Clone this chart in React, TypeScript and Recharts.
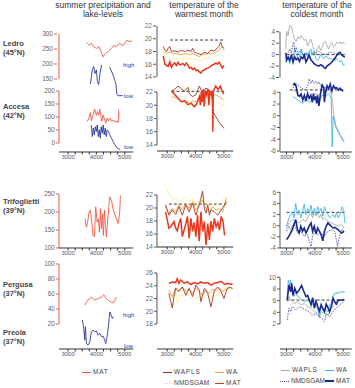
import { LineChart, Line, XAxis, YAxis, ReferenceArea, ReferenceLine } from 'recharts'

type Row = [number, number | null]

// ---- summer precipitation (mm) and lake levels (0 = low, 1 = high) ----
const ledroPrecip: Row[] = [[3650,272],[3740,263],[3820,269],[3900,258],[4000,252],[4090,258],[4180,239],[4235,224],[4290,232],[4410,241],[4530,252],[4610,261],[4700,258],[4820,269],[4940,261],[5080,280],[5180,274],[5260,277]]
const ledroLake: Row[] = [[3790,0.38],[3860,0.88],[3905,0.95],[3950,0.72],[4000,0.84],[4030,0.5],[4080,0.36],[4130,0.75],[4185,1.0],[4300,null],[4470,0.93],[4530,0.8],[4590,0.67],[4650,0.5],[4690,0.36],[4720,0.06],[4760,0],[4940,0]]
const accesaPrecip: Row[] = [[3682,83],[3741,98],[3788,117],[3823,85],[3882,108],[3941,130],[4000,106],[4035,121],[4082,108],[4117,130],[4152,108],[4188,83],[4235,108],[4282,93],[4329,76],[4376,96],[4423,85],[4470,96],[4529,83],[4588,89],[4658,80],[4729,83],[4776,80],[4788,128]]
const accesaLake: Row[] = [[3820,0.82],[3855,0.41],[3890,0.71],[3925,0.47],[3960,0.76],[3995,0.59],[4030,0.82],[4065,0.41],[4100,0.65],[4135,0.35],[4170,0.76],[4205,0.53],[4240,0.82],[4275,0.47],[4310,0.71],[4345,0.41],[4380,0.65],[4420,0.59],[4470,0.47],[4530,0.35],[4590,0.23],[4650,0.12],[4730,0],[4830,-0.05]]
const trifoPrecip: Row[] = [[3600,181],[3647,158],[3682,168],[3741,200],[3788,205],[3835,172],[3882,135],[3929,131],[3976,214],[4023,172],[4070,181],[4105,144],[4141,209],[4176,153],[4211,195],[4247,135],[4282,205],[4317,163],[4353,131],[4412,191],[4470,242],[4529,232],[4588,209],[4682,186],[4764,168],[4823,200],[4847,246]]
const pergusaPrecip: Row[] = [[3590,45],[3700,52],[3820,56],[3940,52],[4060,54],[4180,56],[4260,59],[4350,54],[4470,50],[4590,48],[4650,52],[4710,56]]
const preolaLake: Row[] = [[3506,0.84],[3553,0.57],[3588,0.19],[3612,0.62],[3647,0.08],[3706,0.03],[3765,0.13],[3823,0.46],[3882,0.51],[3941,0.46],[4000,0.49],[4059,0.35],[4117,0.41],[4176,0.3],[4235,0.32],[4294,0.19],[4329,0.08],[4376,0.3],[4423,0.62],[4470,1.1],[4517,1.0],[4564,0.89],[4600,0.95]]

// ---- temperature of the warmest month (°C) ----
const ledroWarmMAT: Row[] = [[2860,17.3],[2920,16.0],[2980,15.8],[3035,15.7],[3090,16.4],[3150,15.5],[3210,16.0],[3265,16.2],[3325,15.8],[3380,16.3],[3440,15.9],[3500,16.0],[3555,16.1],[3615,15.8],[3670,16.2],[3730,15.9],[3785,15.4],[3845,15.5],[3900,15.2],[3960,15.4],[4015,15.0],[4075,15.1],[4135,14.8],[4190,14.6],[4250,15.0],[4305,15.1],[4365,15.3],[4420,15.4],[4480,15.5],[4540,15.7],[4595,15.9],[4655,16.0],[4710,16.2],[4770,16.0],[4825,16.3],[4885,15.9],[4940,15.4],[5000,15.8]]
const ledroWarmWAPLS: Row[] = [[2860,18.8],[2920,18.2],[2980,18.0],[3035,18.5],[3090,18.8],[3150,18.0],[3265,18.1],[3380,17.9],[3500,18.2],[3615,18.0],[3730,18.2],[3845,18.0],[3900,18.5],[3960,17.9],[4075,17.7],[4190,17.5],[4305,17.9],[4420,17.7],[4540,18.2],[4655,18.1],[4770,18.5],[4825,18.8],[4885,19.5],[4940,18.8],[5000,18.5]]
const ledroWarmWA: Row[] = [[2860,18.0],[2980,17.7],[3090,17.9],[3210,17.6],[3325,17.7],[3440,17.5],[3555,17.6],[3670,17.7],[3785,17.5],[3900,17.7],[4015,17.4],[4135,17.2],[4250,17.5],[4365,17.6],[4480,17.7],[4595,17.6],[4710,17.9],[4825,18.2],[4940,18.8],[5000,18.2]]
const ledroWarmNMDS: Row[] = [[2860,17.2],[2980,16.9],[3090,17.0],[3210,16.8],[3325,16.9],[3440,16.7],[3555,16.9],[3670,17.0],[3785,16.8],[3900,16.9],[4015,16.7],[4135,16.5],[4250,16.8],[4365,16.9],[4480,17.0],[4595,16.9],[4710,17.2],[4825,17.5],[4940,17.4],[5000,17.2]]

const accesaWarmMAT: Row[] = [[3150,22.2],[3265,21.6],[3380,21.1],[3500,20.5],[3615,20.7],[3730,20.1],[3845,20.3],[3960,19.8],[4040,20.2],[4085,20.8],[4135,21.3],[4170,20.0],[4200,22.0],[4235,20.5],[4270,22.4],[4305,19.8],[4340,22.2],[4385,21.6],[4435,22.5],[4470,20.0],[4505,22.0],[4550,21.6],[4595,22.2],[4610,16.0],[4625,22.1],[4710,22.9],[4790,22.4],[4875,22.9],[4940,22.1],[5000,21.7]]
const accesaWarmWAPLS: Row[] = [[3150,22.2],[3265,22.4],[3380,22.9],[3500,22.5],[3615,22.1],[3730,22.7],[3785,21.7],[3900,21.3],[4015,21.6],[4135,22.9],[4250,21.8],[4365,22.6],[4480,22.2],[4570,22.0],[4615,19.0],[4710,18.3],[4825,17.5],[5000,16.5]]
const accesaWarmWA: Row[] = [[3150,21.3],[3325,21.1],[3440,20.8],[3555,20.5],[3670,20.6],[3785,20.3],[3900,20.7],[4015,20.5],[4135,21.1],[4250,20.8],[4365,21.3],[4480,21.1],[4595,21.2],[4710,21.6],[4825,21.3],[5000,20.8]]
const accesaWarmNMDS: Row[] = [[3150,20.8],[3265,20.5],[3380,20.1],[3500,19.8],[3615,20.2],[3730,19.7],[3845,20.0],[3960,19.6],[4075,20.3],[4190,20.1],[4305,20.6],[4420,20.2],[4540,20.5],[4655,20.7],[4770,20.5],[4885,20.2],[5000,20.0]]

const trifoWarmMAT: Row[] = [[2940,19.4],[3000,18.2],[3060,16.9],[3120,17.1],[3180,17.5],[3240,17.9],[3300,16.9],[3355,16.5],[3415,17.6],[3475,18.4],[3535,15.6],[3595,16.6],[3655,17.5],[3715,18.7],[3775,15.3],[3835,18.4],[3895,16.4],[3950,17.8],[4010,15.6],[4070,18.9],[4130,14.9],[4190,19.4],[4250,16.4],[4310,17.9],[4370,14.3],[4430,17.6],[4490,15.1],[4545,18.0],[4605,16.4],[4665,18.4],[4725,17.1],[4785,17.8],[4845,16.6],[4905,18.7],[4965,18.0],[5025,15.8]]
const trifoWarmWAPLS: Row[] = [[2940,20.5],[3060,18.9],[3180,19.7],[3300,19.0],[3415,20.2],[3535,18.9],[3655,20.5],[3775,19.4],[3895,20.7],[4010,18.9],[4130,20.5],[4190,21.5],[4250,22.6],[4310,19.9],[4370,19.2],[4430,20.5],[4490,18.9],[4545,19.7],[4665,19.4],[4785,18.9],[4905,19.7],[5025,20.5],[5085,21.0]]
const trifoWarmWA: Row[] = [[2940,20.2],[3060,19.2],[3180,19.9],[3300,19.4],[3415,20.5],[3535,19.7],[3655,20.7],[3775,19.9],[3895,21.0],[4010,19.7],[4130,20.6],[4250,21.2],[4370,19.9],[4490,19.4],[4605,20.2],[4725,19.7],[4845,19.9],[4965,19.4],[5085,21.5]]
const trifoWarmNMDS: Row[] = [[2940,23.4],[3000,22.8],[3060,22.3],[3120,21.7],[3180,21.2],[3300,21.5],[3415,21.0],[3535,21.2],[3655,21.7],[3775,21.0],[3895,21.5],[4010,20.6],[4130,21.2],[4250,21.7],[4370,20.5],[4490,21.0],[4605,19.9],[4725,20.5],[4845,20.7],[4965,21.2],[5085,21.7]]

const pergusaWarmMAT: Row[] = [[3060,24.4],[3180,24.6],[3300,24.5],[3355,25.1],[3415,24.4],[3475,24.9],[3595,24.4],[3715,24.6],[3835,24.2],[3950,24.5],[4070,24.3],[4190,24.6],[4310,24.4],[4430,24.5],[4545,24.1],[4665,24.4],[4785,24.5],[4905,24.7],[5025,24.2],[5140,24.4],[5260,24.2],[5300,24.4]]
const pergusaWarmWAPLS: Row[] = [[3060,22.8],[3180,20.5],[3240,22.3],[3300,23.6],[3415,23.1],[3535,23.8],[3655,22.5],[3775,23.6],[3895,22.3],[4010,24.1],[4130,23.3],[4190,21.5],[4310,23.6],[4430,22.8],[4545,20.7],[4665,23.3],[4785,23.8],[4905,23.1],[5000,22.0],[5120,23.6],[5235,23.8],[5300,23.5]]
const pergusaWarmWA: Row[] = [[3060,23.3],[3180,22.3],[3300,23.6],[3415,23.2],[3535,23.8],[3655,23.1],[3775,23.5],[3895,22.8],[4010,23.6],[4130,23.1],[4250,22.5],[4370,23.3],[4490,22.8],[4605,23.5],[4725,23.2],[4845,23.6],[4965,23.1],[5085,23.5],[5200,23.7],[5300,23.6]]
const pergusaWarmNMDS: Row[] = [[3060,23.1],[3180,22.0],[3300,23.1],[3355,21.3],[3475,22.5],[3595,22.3],[3715,22.8],[3835,22.0],[3950,22.5],[4070,22.0],[4190,22.3],[4310,21.8],[4430,22.5],[4545,22.0],[4665,22.8],[4785,22.5],[4905,23.1],[5025,23.3],[5140,23.5],[5260,23.6],[5300,23.3]]

// ---- temperature of the coldest month (°C) ----
const ledroColdWAPLS: Row[] = [[2977,1.0],[3000,4.1],[3057,3.3],[3114,5.1],[3171,4.9],[3229,3.7],[3286,2.7],[3343,2.3],[3400,3.1],[3457,2.7],[3514,3.3],[3572,2.9],[3629,2.5],[3686,2.7],[3743,1.5],[3800,2.1],[3857,2.7],[3914,1.8],[3972,0.7],[4029,0.0],[4086,1.2],[4143,1.6],[4200,0.7],[4257,1.3],[4314,2.1],[4372,2.3],[4429,1.5],[4486,1.0],[4543,1.8],[4600,2.1],[4657,1.3],[4714,1.6],[4772,2.2],[4829,1.9],[4886,2.2],[4943,1.8],[5000,2.2],[5057,1.9]]
const ledroColdMAT: Row[] = [[2977,0.3],[3000,-1.0],[3057,-0.4],[3114,-1.0],[3171,0.0],[3229,-1.3],[3286,-0.4],[3343,-0.9],[3400,-0.6],[3457,-1.2],[3514,-0.4],[3572,-0.7],[3629,-0.1],[3686,-1.3],[3743,-0.7],[3800,-0.1],[3857,-0.9],[3914,-1.2],[3972,-1.6],[4029,-1.8],[4086,-1.9],[4143,-2.0],[4200,-1.8],[4257,-1.9],[4314,-2.2],[4372,-2.4],[4429,-2.0],[4486,-1.8],[4543,-1.6],[4600,-1.3],[4657,-1.0],[4714,-0.6],[4772,-0.1],[4829,0.2],[4886,0.4],[4943,0.0],[5000,-0.3],[5057,-0.4]]
const ledroColdWA: Row[] = [[2977,-1.3],[3057,-0.7],[3114,-1.6],[3171,-0.4],[3229,-1.3],[3286,1.0],[3343,0.2],[3400,-0.7],[3457,-0.4],[3514,1.0],[3572,-0.1],[3629,-0.6],[3686,0.4],[3743,-0.3],[3800,0.4],[3857,1.0],[3914,0.0],[3972,0.6],[4029,-0.6],[4086,-1.0],[4143,-0.7],[4200,0.0],[4257,-0.4],[4314,-0.7],[4372,-0.3],[4429,-0.4],[4486,-0.7],[4543,-0.6],[4600,-0.9],[4657,-0.6],[4714,-1.0],[4772,-0.7],[4829,-1.0],[4886,-1.3],[4943,-1.0],[5000,-1.9],[5057,-1.6]]
const ledroColdNMDS: Row[] = [[2977,-0.1],[3057,0.4],[3114,1.0],[3171,0.2],[3229,1.8],[3263,2.2],[3297,0.4],[3343,1.3],[3400,0.2],[3457,0.6],[3572,0.3],[3686,0.0],[3800,0.4],[3914,0.2],[4029,0.3],[4143,0.6],[4257,0.2],[4372,0.0],[4486,0.3],[4600,0.4],[4714,0.2],[4829,0.0],[4943,-0.1],[5057,0.0]]

const accesaColdMAT: Row[] = [[3229,5.25],[3286,5.5],[3343,4.97],[3400,3.5],[3457,3.3],[3514,3.7],[3572,2.7],[3629,3.5],[3686,2.5],[3743,3.8],[3800,3.0],[3857,3.5],[3914,2.3],[3949,3.8],[3983,2.7],[4029,3.3],[4063,2.1],[4097,3.5],[4143,1.7],[4177,3.0],[4212,4.1],[4257,5.25],[4314,4.8],[4337,2.3],[4372,3.8],[4429,5.1],[4486,4.6],[4543,5.4],[4600,4.2],[4657,5.1],[4714,4.7],[4772,4.8],[4829,4.4],[4886,4.7],[4943,4.4],[5000,4.2]]
const accesaColdWAPLS: Row[] = [[3229,4.4],[3343,4.0],[3457,3.5],[3572,3.1],[3686,3.3],[3800,2.9],[3914,3.3],[4029,3.7],[4143,3.5],[4257,4.4],[4372,4.1],[4486,4.4],[4577,3.8],[4623,2.3],[4669,0.1],[4737,-1.6],[4829,-2.6],[4920,-3.4],[5034,-4.3]]
const accesaColdWA: Row[] = [[3229,3.3],[3343,2.9],[3457,2.5],[3572,2.1],[3686,2.9],[3800,2.3],[3914,2.7],[4029,3.0],[4143,2.3],[4257,3.5],[4372,3.3],[4486,3.8],[4577,3.0],[4612,-5.3],[4646,-0.1],[4737,-1.9],[4829,-2.8],[4920,-3.7],[5034,-4.5]]
const accesaColdNMDS: Row[] = [[3229,4.7],[3320,5.5],[3400,5.25],[3514,4.8],[3629,4.4],[3743,4.97],[3800,6.3],[3857,5.5],[3914,6.1],[3972,5.5],[4029,5.9],[4086,5.4],[4143,5.8],[4200,5.1],[4314,4.7],[4429,4.97],[4543,4.4],[4657,4.8],[4772,4.6],[4886,4.4],[5000,4.2]]

const trifoColdMAT: Row[] = [[3000,-2.5],[3085,-1.9],[3145,-1.3],[3205,-0.7],[3265,0.2],[3325,1.1],[3385,-0.7],[3445,-1.3],[3505,-0.1],[3565,-1.0],[3625,-0.4],[3685,-1.3],[3745,-0.7],[3805,0.0],[3865,0.5],[3920,-1.0],[3980,-0.1],[4040,-1.5],[4100,-0.4],[4160,-1.0],[4220,-1.6],[4280,-2.7],[4340,-1.0],[4400,-0.1],[4460,0.5],[4520,0.2],[4580,-0.1],[4640,-0.4],[4700,-0.3],[4820,-0.7],[4940,-1.3],[5035,-1.0]]
const trifoColdWA: Row[] = [[3000,-0.1],[3085,1.4],[3145,2.0],[3205,2.5],[3265,1.4],[3325,4.0],[3385,2.0],[3445,2.8],[3505,1.4],[3565,2.5],[3625,3.9],[3685,2.0],[3745,3.1],[3805,2.3],[3865,3.7],[3920,2.0],[3980,3.1],[4040,2.0],[4100,3.4],[4160,2.5],[4220,3.1],[4280,1.7],[4340,3.4],[4400,2.5],[4460,2.0],[4520,1.4],[4580,1.7],[4640,2.0],[4700,1.4],[4760,2.3],[4820,1.4],[4880,2.0],[4965,3.4],[5015,2.8],[5060,0.5]]
const trifoColdWAPLS: Row[] = [[3000,-0.4],[3085,0.5],[3205,1.1],[3325,0.8],[3445,0.5],[3565,1.1],[3685,0.8],[3805,2.0],[3865,2.3],[3920,1.4],[3980,2.5],[4040,1.7],[4100,2.3],[4160,1.4],[4220,2.0],[4280,1.1],[4340,1.4],[4460,0.8],[4580,0.5],[4700,0.2],[4820,-0.1],[4940,0.2],[5035,-0.4]]
const trifoColdNMDS: Row[] = [[3000,-1.0],[3085,-0.1],[3145,-0.7],[3265,0.5],[3385,-1.3],[3505,-1.0],[3625,-1.9],[3745,-1.6],[3805,-2.8],[3865,-3.7],[3920,-1.9],[3980,-1.0],[4100,-1.6],[4220,-1.3],[4340,-1.9],[4460,-1.0],[4580,-0.7],[4700,-1.0],[4800,-3.7],[4880,-1.6],[4965,-0.7],[5035,-1.3]]

const pergusaColdMAT: Row[] = [[3025,6.1],[3085,8.7],[3145,7.5],[3180,9.0],[3230,6.9],[3290,8.1],[3360,7.3],[3445,7.8],[3530,8.6],[3600,7.7],[3685,6.7],[3745,6.9],[3805,6.1],[3865,5.3],[3920,6.5],[3980,4.7],[4040,5.9],[4100,5.0],[4160,4.2],[4220,5.3],[4280,4.6],[4340,4.1],[4400,5.4],[4460,4.8],[4520,4.1],[4580,5.0],[4640,6.4],[4700,5.8],[4760,5.4],[4820,6.1],[4920,6.1],[5035,6.1]]
const pergusaColdWA: Row[] = [[3025,6.4],[3060,9.5],[3110,8.7],[3145,9.5],[3205,8.1],[3265,6.7],[3325,7.5],[3385,6.7],[3505,6.4],[3625,5.8],[3745,6.1],[3865,5.5],[3980,5.3],[4100,4.7],[4160,3.3],[4220,5.0],[4340,4.7],[4460,4.1],[4520,5.3],[4580,5.5],[4640,6.7],[4700,7.3],[4820,7.3],[4940,7.5],[5060,7.5]]
const pergusaColdWAPLS: Row[] = [[3025,5.8],[3085,6.7],[3145,6.1],[3265,5.5],[3385,5.8],[3505,5.3],[3625,5.5],[3745,5.0],[3865,4.7],[3980,4.1],[4100,3.8],[4160,3.0],[4220,4.1],[4340,3.8],[4460,3.5],[4580,4.7],[4700,5.3],[4820,5.8],[4940,6.1],[5035,6.4]]
const pergusaColdNMDS: Row[] = [[3025,2.7],[3085,4.7],[3145,4.1],[3205,5.0],[3325,4.4],[3445,5.0],[3565,4.7],[3685,4.4],[3805,4.1],[3920,3.5],[4040,3.8],[4160,3.3],[4280,2.7],[4340,2.4],[4400,3.8],[4520,3.3],[4640,4.1],[4760,4.7],[4880,5.3],[5000,5.8]]

const AGE_TICKS = [3000, 3250, 3500, 3750, 4000, 4250, 4500, 4750, 5000]
const BAND: [number, number] = [3960, 4320]

const RED = '#ee5a45'
const BLUE = '#2a3a9c'
const W = { wapls: '#a3381f', wa: '#f5a03c', nmds: '#f2df4a', mat: '#e8371e' }
const C = { wapls: '#aaaaaa', wa: '#3cb6e6', nmds: '#4b4fa8', mat: '#1b2a8c' }

const FONT = '"Liberation Sans", Arial, sans-serif'
const PX_PER_YR = 0.02835
const ML = 30
const MR = 8
const XH = 14

interface Col { left: number; from: number; to: number; axisColor: string }
const COL1: Col = { left: 59, from: 2680, to: 5300, axisColor: RED }
const COL2: Col = { left: 156.5, from: 2640, to: 5330, axisColor: '#555' }
const COL3: Col = { left: 280, from: 2770, to: 5300, axisColor: '#555' }

// an axis is pinned by two (value, page y) anchors; its domain is stretched to the block
interface Axis { id: string; lo: [number, number]; hi: [number, number]; ticks?: number[] }
interface Series { rows: Row[]; axis: string; color: string; width?: number; dash?: string }
interface Dash { axis: string; y: number; from: number; to: number }

function domainOf(a: Axis, top: number, bottom: number): [number, number] {
  const [v1, y1] = a.lo
  const [v2, y2] = a.hi
  const k = (y2 - y1) / (v2 - v1)
  return [v1 + (bottom - y1) / k, v1 + (top - y1) / k]
}

const toPts = (rows: Row[]) => rows.map(([age, v]) => ({ age, v }))
const plotWidth = (c: Col) => (c.to - c.from) * PX_PER_YR

function Band({ col, top, bottom }: { col: Col; top: number; bottom: number }) {
  return (
    <div style={{ position: 'absolute', left: col.left, top }}>
      <LineChart width={plotWidth(col)} height={bottom - top} margin={{ top: 0, right: 0, bottom: 0, left: 0 }}
        data={[{ age: col.from, v: 0 }, { age: col.to, v: 1 }]}>
        <XAxis type="number" dataKey="age" domain={[col.from, col.to]} allowDataOverflow hide />
        <YAxis domain={[0, 1]} hide />
        <ReferenceArea x1={BAND[0]} x2={BAND[1]} y1={0} y2={1} fill="#dedede" fillOpacity={1} stroke="none" />
      </LineChart>
    </div>
  )
}

function Block({ col, top, bottom, axes, series, dashes = [] }: {
  col: Col; top: number; bottom: number; axes: Axis[]; series: Series[]; dashes?: Dash[]
}) {
  const w = plotWidth(col)
  // every shown y axis takes 1px of the left margin
  const shown = axes.filter(a => a.ticks).length
  return (
    <div style={{ position: 'absolute', left: col.left - ML, top }}>
      <LineChart width={ML + w + MR} height={bottom - top + XH} margin={{ top: 0, right: MR, bottom: 0, left: ML - shown }}>
        <XAxis xAxisId="age" type="number" dataKey="age" domain={[col.from, col.to]} allowDataOverflow
          ticks={AGE_TICKS} interval={0} height={XH} tickSize={2.5} tickMargin={0}
          tickFormatter={(v: number) => (v % 1000 === 0 ? String(v) : '')}
          axisLine={{ stroke: '#333' }} tickLine={{ stroke: '#333' }}
          tick={{ fontSize: 6, fill: '#555' }} />
        {axes.map(a => (
          <YAxis key={a.id} yAxisId={a.id} domain={domainOf(a, top, bottom)} allowDataOverflow
            hide={!a.ticks} ticks={a.ticks} interval={0} width={1} axisLine={false}
            tickSize={3} tickMargin={1} tickLine={{ stroke: col.axisColor }}
            tick={{ fontSize: 6.5, fill: '#666' }} />
        ))}
        {axes.filter(a => a.ticks).map(a => (
          <ReferenceLine key={'axis-' + a.id} xAxisId="age" yAxisId={a.id} ifOverflow="visible"
            segment={[{ x: col.from, y: a.ticks![0] }, { x: col.from, y: a.ticks![a.ticks!.length - 1] }]}
            stroke={col.axisColor} strokeWidth={1} />
        ))}
        {dashes.map((d, i) => (
          <ReferenceLine key={'dash-' + i} xAxisId="age" yAxisId={d.axis}
            segment={[{ x: d.from, y: d.y }, { x: d.to, y: d.y }]}
            stroke="#222" strokeWidth={0.9} strokeDasharray="3 2" />
        ))}
        {series.map((s, i) => (
          <Line key={i} xAxisId="age" yAxisId={s.axis} data={toPts(s.rows)} dataKey="v" type="linear"
            stroke={s.color} strokeWidth={s.width ?? 0.9} strokeDasharray={s.dash}
            dot={false} activeDot={false} connectNulls={false} isAnimationActive={false} />
        ))}
      </LineChart>
    </div>
  )
}

const warmSet = (axis: string, wapls: Row[], wa: Row[], nmds: Row[], mat: Row[]): Series[] => [
  { rows: nmds, axis, color: W.nmds, dash: '1 1.2', width: 1 },
  { rows: wa, axis, color: W.wa },
  { rows: wapls, axis, color: W.wapls },
  { rows: mat, axis, color: W.mat, width: 1.5 },
]
const coldSet = (axis: string, wapls: Row[], wa: Row[], nmds: Row[], mat: Row[]): Series[] => [
  { rows: wapls, axis, color: C.wapls },
  { rows: wa, axis, color: C.wa },
  { rows: nmds, axis, color: C.nmds, dash: '1.5 1.2' },
  { rows: mat, axis, color: C.mat, width: 1.6 },
]

const abs = (left: number, top: number, extra: React.CSSProperties = {}): React.CSSProperties => ({
  position: 'absolute', left, top, whiteSpace: 'nowrap', lineHeight: 1, ...extra,
})

function Title({ x, lines }: { x: number; lines: string[] }) {
  return (
    <div style={abs(x - 60, 1, { width: 120, textAlign: 'center', fontSize: 8.5, color: '#333', lineHeight: '9px' })}>
      {lines.map(l => <div key={l}>{l}</div>)}
    </div>
  )
}

function Site({ y, name, lat }: { y: number; name: string; lat: string }) {
  return (
    <div style={abs(3, y, { fontSize: 7.5, fontWeight: 700, color: '#444', lineHeight: '9px' })}>
      <div>{name}</div>
      <div>{lat}</div>
    </div>
  )
}

function Key({ x, y, color, label, dotted, thick, spacing = 0.8 }: {
  x: number; y: number; color: string; label: string; dotted?: boolean; thick?: boolean; spacing?: number
}) {
  return (
    <div style={abs(x, y - 4, { display: 'flex', alignItems: 'center', fontSize: 6.5, color: '#444', letterSpacing: spacing })}>
      <span style={{ display: 'inline-block', width: 9, borderTop: `${thick ? 2 : 1.5}px ${dotted ? 'dotted' : 'solid'} ${color}`, marginRight: 2 }} />
      {label}
    </div>
  )
}

const lakeText = (x: number, y: number, t: string) => (
  <div key={t + y} style={abs(x, y - 3, { fontSize: 6, color: BLUE })}>{t}</div>
)

export default function App() {
  return (
    <div style={{ position: 'absolute', left: 0, top: 0, width: 355, height: 388, background: '#fff', fontFamily: FONT, overflow: 'hidden' }}>
      <Band col={COL1} top={30} bottom={349} />
      <Band col={COL2} top={30} bottom={342} />
      <Band col={COL3} top={28} bottom={342} />

      {/* summer precipitation and lake levels */}
      <Block col={COL1} top={28} bottom={152}
        axes={[
          { id: 'ledro', lo: [150, 79], hi: [300, 34], ticks: [150, 200, 250, 300] },
          { id: 'ledroLake', lo: [0, 95.7], hi: [1, 65] },
          { id: 'accesa', lo: [0, 143], hi: [200, 91], ticks: [0, 50, 100, 150, 200] },
          { id: 'accesaLake', lo: [0, 148], hi: [1, 120] },
        ]}
        series={[
          { rows: ledroPrecip, axis: 'ledro', color: RED },
          { rows: ledroLake, axis: 'ledroLake', color: BLUE },
          { rows: accesaPrecip, axis: 'accesa', color: RED },
          { rows: accesaLake, axis: 'accesaLake', color: BLUE },
        ]} />
      <Block col={COL1} top={152} bottom={248}
        axes={[{ id: 'trifo', lo: [100, 248], hi: [250, 194], ticks: [100, 150, 200, 250] }]}
        series={[{ rows: trifoPrecip, axis: 'trifo', color: RED }]} />
      <Block col={COL1} top={248} bottom={349}
        axes={[
          { id: 'pergusa', lo: [20, 324], hi: [100, 264], ticks: [20, 40, 60, 80, 100] },
          { id: 'preolaLake', lo: [0, 346], hi: [1, 315] },
        ]}
        series={[
          { rows: pergusaPrecip, axis: 'pergusa', color: RED },
          { rows: preolaLake, axis: 'preolaLake', color: BLUE },
        ]} />

      {/* warmest month */}
      <Block col={COL2} top={22} bottom={151}
        axes={[
          { id: 'ledro', lo: [14, 77], hi: [22, 26], ticks: [14, 16, 18, 20, 22] },
          { id: 'accesa', lo: [14, 145], hi: [22, 92], ticks: [14, 16, 18, 20, 22] },
        ]}
        series={[
          ...warmSet('ledro', ledroWarmWAPLS, ledroWarmWA, ledroWarmNMDS, ledroWarmMAT),
          ...warmSet('accesa', accesaWarmWAPLS, accesaWarmWA, accesaWarmNMDS, accesaWarmMAT),
        ]}
        dashes={[
          { axis: 'ledro', y: 19.8, from: 3100, to: 5000 },
          { axis: 'accesa', y: 22.1, from: 3150, to: 5000 },
        ]} />
      <Block col={COL2} top={151} bottom={247}
        axes={[{ id: 'trifo', lo: [14, 247], hi: [22, 195], ticks: [14, 16, 18, 20, 22] }]}
        series={warmSet('trifo', trifoWarmWAPLS, trifoWarmWA, trifoWarmNMDS, trifoWarmMAT)}
        dashes={[{ axis: 'trifo', y: 20.6, from: 3060, to: 5085 }]} />
      <Block col={COL2} top={247} bottom={349}
        axes={[{ id: 'pergusa', lo: [18, 324], hi: [26, 273], ticks: [18, 20, 22, 24, 26] }]}
        series={warmSet('pergusa', pergusaWarmWAPLS, pergusaWarmWA, pergusaWarmNMDS, pergusaWarmMAT)} />

      {/* coldest month */}
      <Block col={COL3} top={22} bottom={152}
        axes={[
          { id: 'ledro', lo: [-4, 77.5], hi: [4, 31.7], ticks: [-4, -2, 0, 2, 4] },
          { id: 'accesa', lo: [-6, 151], hi: [4, 92.3], ticks: [-6, -4, -2, 0, 2, 4] },
        ]}
        series={[
          ...coldSet('ledro', ledroColdWAPLS, ledroColdWA, ledroColdNMDS, ledroColdMAT),
          ...coldSet('accesa', accesaColdWAPLS, accesaColdWA, accesaColdNMDS, accesaColdMAT),
        ]}
        dashes={[
          { axis: 'ledro', y: 0, from: 3000, to: 5060 },
          { axis: 'accesa', y: 4.4, from: 3114, to: 5000 },
        ]} />
      <Block col={COL3} top={152} bottom={248}
        axes={[{ id: 'trifo', lo: [-4, 248], hi: [6, 192.3], ticks: [-4, -2, 0, 2, 4, 6] }]}
        series={coldSet('trifo', trifoColdWAPLS, trifoColdWA, trifoColdNMDS, trifoColdMAT)}
        dashes={[{ axis: 'trifo', y: 2.4, from: 3000, to: 5060 }]} />
      <Block col={COL3} top={248} bottom={349}
        axes={[{ id: 'pergusa', lo: [2, 324], hi: [10, 277.3], ticks: [2, 4, 6, 8, 10] }]}
        series={coldSet('pergusa', pergusaColdWAPLS, pergusaColdWA, pergusaColdNMDS, pergusaColdMAT)}
        dashes={[{ axis: 'pergusa', y: 6.1, from: 3000, to: 5060 }]} />

      {lakeText(123, 65, 'high')}
      {lakeText(124, 96, 'low')}
      {lakeText(124, 147, 'low')}
      {lakeText(123, 315, 'high')}
      {lakeText(124, 346, 'low')}

      <Title x={103} lines={['summer precipitation and', 'lake-levels']} />
      <Title x={204} lines={['temperature of the', 'warmest month']} />
      <Title x={317} lines={['temperature of the', 'coldest month']} />

      <Site y={39} name="Ledro" lat="(45°N)" />
      <Site y={102} name="Accesa" lat="(42°N)" />
      <Site y={197} name="Trifoglietti" lat="(39°N)" />
      <Site y={280} name="Pergusa" lat="(37°N)" />
      <Site y={328} name="Preola" lat="(37°N)" />

      <Key x={82} y={373} color={RED} label="MAT" />

      <Key x={163} y={373} color={W.wapls} label="WAPLS" />
      <Key x={215} y={373} color={W.wa} label="WA" />
      <Key x={163} y={384} color={W.nmds} label="NMDSGAM" dotted spacing={0.2} />
      <Key x={215} y={384} color={W.mat} label="MAT" />

      <Key x={281} y={371} color={C.wapls} label="WAPLS" spacing={0.6} />
      <Key x={325} y={371} color={C.wa} label="WA" spacing={0.5} />
      <Key x={280} y={382} color={C.nmds} label="NMDSGAM" dotted spacing={0} />
      <Key x={325} y={382} color={C.mat} label="MAT" thick spacing={0.4} />
    </div>
  )
}
